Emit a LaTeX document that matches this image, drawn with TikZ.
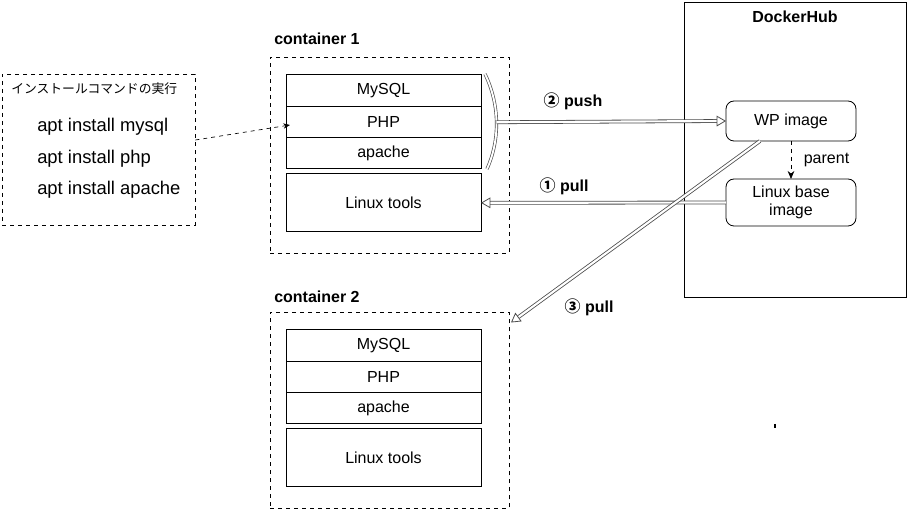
\documentclass[tikz,border=0pt]{standalone}
\usepackage{fontspec}
\setmainfont{Liberation Sans}
\newfontfamily\jpfont{Noto Sans CJK JP}
\usetikzlibrary{arrows.meta,positioning,calc}

\tikzset{
  layer/.style={draw, line width=0.6pt, minimum width=146.25pt, minimum height=23.5pt,
    inner sep=0pt, outer sep=0pt, font=\fontsize{12}{14}\selectfont},
  tools/.style={layer, minimum height=43.5pt},
  group/.style={draw, dashed, line width=0.6pt, minimum width=179.25pt, minimum height=147pt,
    inner sep=0pt, outer sep=0pt},
  title/.style={font=\bfseries\fontsize{12}{14}\selectfont, anchor=west, inner sep=0pt},
  image/.style={draw, rounded corners=6pt, line width=0.6pt, minimum width=97.5pt,
    inner sep=0pt, outer sep=0pt, align=center, font=\fontsize{12}{14}\selectfont},
  cmd/.style={anchor=west, inner sep=0pt, font=\fontsize{13.8}{16}\selectfont},
  flow/.style={draw=black!70, double=white, double distance=1.6pt, line width=0.6pt,
    -{Triangle[open, length=7pt, width=8pt]}},
  flowlabel/.style={font=\bfseries\fontsize{12}{14}\selectfont, inner sep=0pt}
}

\begin{document}
\begin{tikzpicture}[x=0.75pt, y=-0.75pt]
  \useasboundingbox (0,0) rectangle (908,509);

  % install commands
  \node[draw, dashed, line width=0.6pt, minimum width=144.75pt, minimum height=113.25pt,
        inner sep=0pt] (install) at (98.5,149.5) {};
  \node[anchor=west, inner sep=0pt, font=\jpfont\fontsize{9.6}{11}\selectfont] (jp) at (11,89) {インストールコマンドの実行};
  \node[cmd] (cmdmysql) at (37,127) {apt install mysql};
  \node[cmd] (cmdphp) at (37,159) {apt install php};
  \node[cmd] (cmdapache) at (37,190) {apt install apache};

  % container 1
  \node[group] (cont1) at (389.5,155) {};
  \node[title] (cont1label) at (274,39) {container 1};
  \node[layer] (mysql1) at (383.5,90.5) {MySQL};
  \node[layer, below=0pt of mysql1] (php1) {PHP};
  \node[layer, below=0pt of php1] (apache1) {apache};
  \node[tools, below=3.75pt of apache1] (linux1) {Linux tools};

  % container 2
  \node[group] (cont2) at (389.5,410.5) {};
  \node[title] (cont2label) at (274,297) {container 2};
  \node[layer] (mysql2) at (383.5,345.5) {MySQL};
  \node[layer, below=0pt of mysql2] (php2) {PHP};
  \node[layer, below=0pt of php2] (apache2) {apache};
  \node[tools, below=3.75pt of apache2] (linux2) {Linux tools};

  % DockerHub
  \node[draw, line width=0.6pt, minimum width=166.5pt, minimum height=221.25pt,
        inner sep=0pt] (hub) at (795,149.5) {};
  \node[font=\bfseries\fontsize{12}{14}\selectfont, inner sep=0pt] (hublabel) at (795,17) {DockerHub};
  \node[image, minimum height=30pt] (wp) at (791,121) {WP image};
  \node[image, minimum height=35.25pt] (base) at (791,202.5) {Linux base\\image};

  % bracket round the installed layers
  \draw[draw=black!70, double=white, double distance=1.4pt, line width=0.5pt]
    (485,74) .. controls (500,105) and (500,140) .. (487,169)
    coordinate[pos=0.5] (bracket);

  % install -> container 1
  \draw[dashed, line width=0.5pt, -{Stealth[length=5pt, width=4pt]}]
    (install.east |- 0,140) -- (290,125);

  % push / pull
  \draw[flow] (bracket) -- (wp.west);
  \node[flowlabel] (push) at (573,101) {{\jpfont ②} push};
  \draw[flow] (base.west) -- (linux1.east);
  \node[flowlabel] (pull1) at (564,186) {{\jpfont ①} pull};
  \coordinate (c2corner) at ($(cont2.north east)+(2,10)$);
  \draw[flow] ($(wp.south)+(-31,0)$) -- (c2corner);
  \node[flowlabel] (pull3) at (589,307) {{\jpfont ③} pull};

  % parent relation
  \draw[dashed, line width=0.6pt, -{Stealth[length=6pt, width=5pt]}] (wp.south) -- (base.north)
    node[midway, right=6pt, font=\fontsize{12}{14}\selectfont] (parent) {parent};

  % stray mark
  \draw[line width=0.8pt] (775,424) -- (775,428);
\end{tikzpicture}
\end{document}
